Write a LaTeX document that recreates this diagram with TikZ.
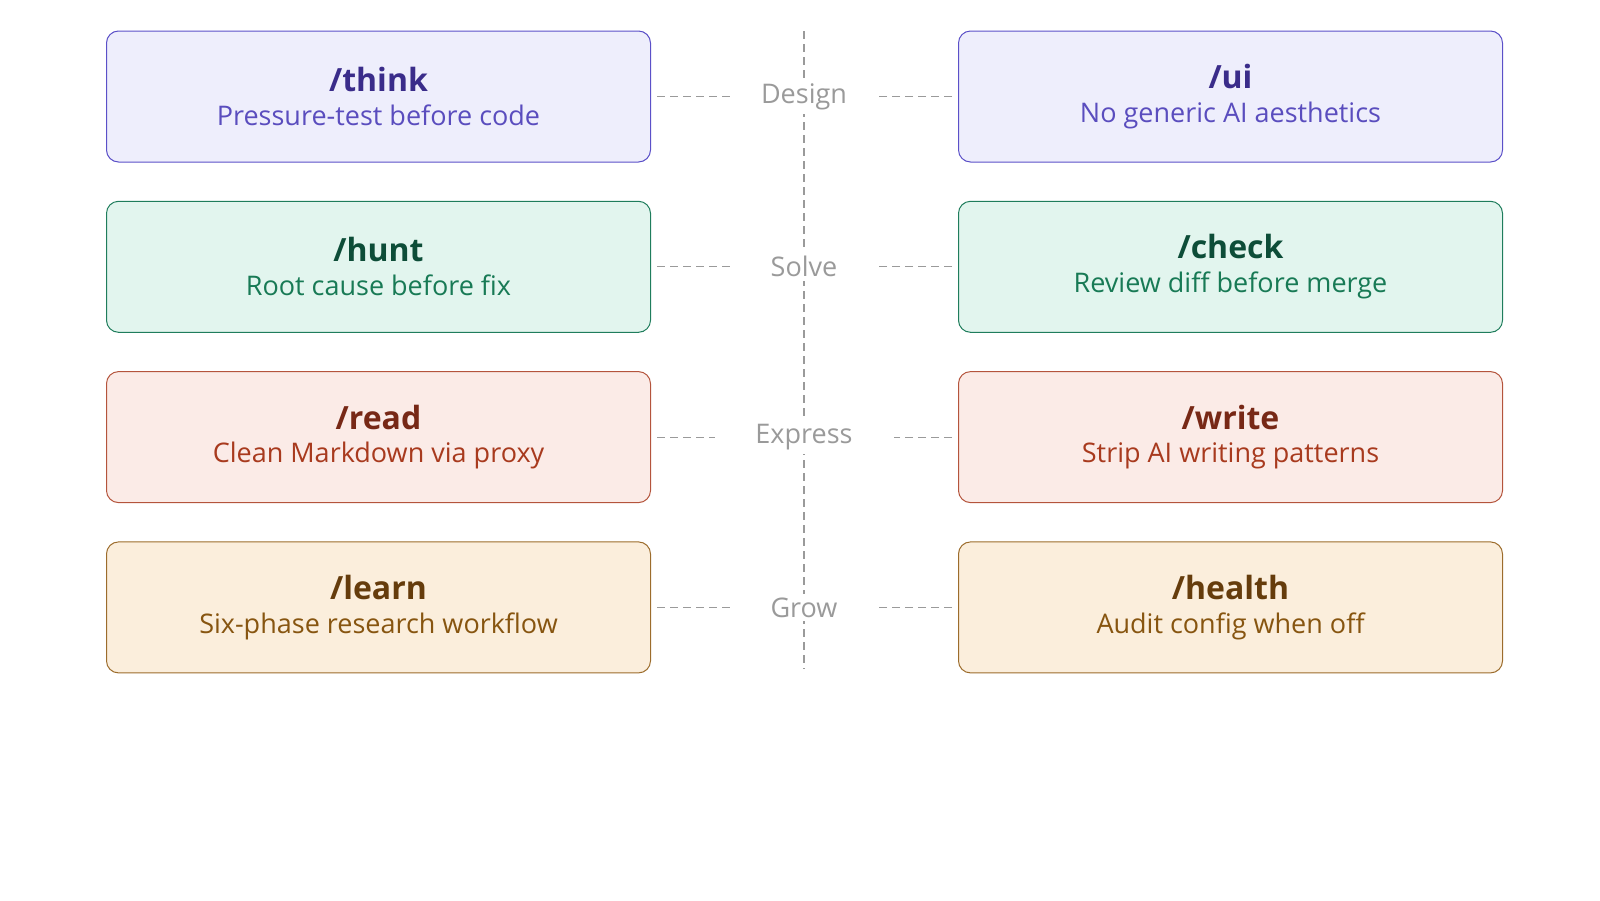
\documentclass[tikz,border=0pt]{standalone}
\usepackage{fontspec}
\setmainfont{Open Sans}
\usetikzlibrary{positioning}
\definecolor{pfill}{HTML}{EEEEFC}\definecolor{pline}{HTML}{5B50C8}\definecolor{ptitle}{HTML}{3A2C8A}\definecolor{psub}{HTML}{5A4DBE}
\definecolor{gfill}{HTML}{E2F5EE}\definecolor{gline}{HTML}{1F7D5C}\definecolor{gtitle}{HTML}{0D4D38}\definecolor{gsub}{HTML}{187A55}
\definecolor{rfill}{HTML}{FBEBE7}\definecolor{rline}{HTML}{B4543C}\definecolor{rtitle}{HTML}{772816}\definecolor{rsub}{HTML}{A83A1E}
\definecolor{ofill}{HTML}{FBEEDC}\definecolor{oline}{HTML}{9C6C2C}\definecolor{otitle}{HTML}{653C0C}\definecolor{osub}{HTML}{875510}
\definecolor{mid}{HTML}{9A9A9A}
\begin{document}
\begin{tikzpicture}[x=1pt,y=-1pt,
  box/.style={draw=#1line, fill=#1fill, rounded corners=12pt, line width=1pt,
    minimum width=544pt, minimum height=131pt, align=center, inner sep=0pt},
  phase/.style={fill=white, text=mid, font=\fontsize{27}{31}\selectfont, inner sep=4pt},
  link/.style={mid, dash pattern=on 8pt off 5pt, line width=1.2pt}
]
\useasboundingbox (0,0) rectangle (1600,900);
\draw[link] (804,31) -- (804,669);
\foreach \i/\c/\lt/\ls/\rt/\rs/\ph/\w in {
  0/p/think/Pressure-test before code/ui/No generic AI aesthetics/Design/74,
  1/g/hunt/Root cause before fix/check/Review diff before merge/Solve/74,
  2/r/read/Clean Markdown via proxy/write/Strip AI writing patterns/Express/58,
  3/o/learn/Six-phase research workflow/health/Audit config when off/Grow/74}{
  \node[box=\c] (l\i) at (378.5,96.5+170.3*\i)
    {{\color{\c title}\fontsize{32}{36}\selectfont\bfseries/\lt}\\[12pt]{\color{\c sub}\fontsize{27}{30}\selectfont\ls}};
  \node[box=\c, right=307pt of l\i] (r\i)
    {{\color{\c title}\fontsize{32}{36}\selectfont\bfseries/\rt}\\[12pt]{\color{\c sub}\fontsize{27}{30}\selectfont\rs}};
  \node[phase] (m\i) at (804,96.5+170.3*\i) {\ph};
  \draw[link] ([xshift=6pt]l\i.east) -- ++(\w pt,0);
  \draw[link] ([xshift=-6pt]r\i.west) -- ++(-\w pt,0);
}
\end{tikzpicture}
\end{document}
